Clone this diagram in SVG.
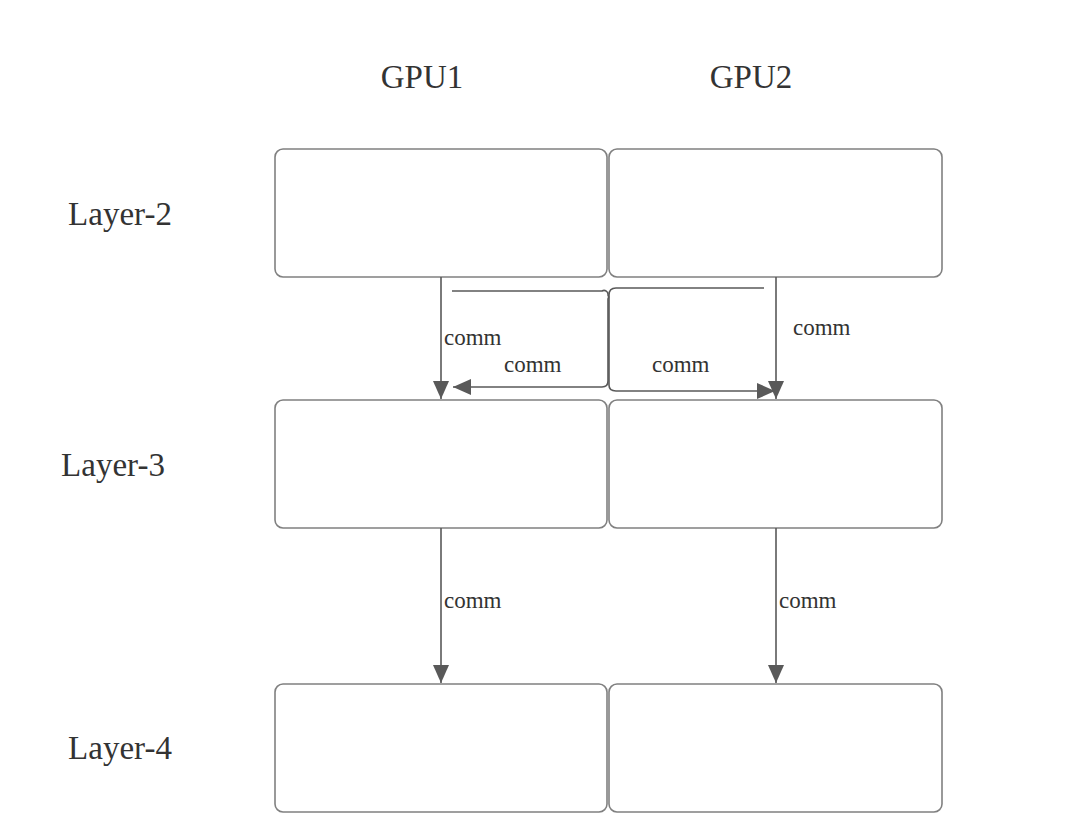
<svg xmlns="http://www.w3.org/2000/svg" width="1071" height="835" viewBox="0 0 1071 835">
<style>
.box{fill:#fff;stroke:#808080;stroke-width:1.6}
.ln{fill:none;stroke:#595959;stroke-width:1.6}
text{font-family:'Liberation Serif','Times New Roman',serif;fill:#333}
.big{font-size:33px}
.sm{font-size:23px}
</style>
<defs>
<marker id="a" viewBox="0 0 18 16" refX="18" refY="8" markerWidth="18" markerHeight="16" markerUnits="userSpaceOnUse" orient="auto">
<path d="M0,0 L18,8 L0,16 Z" fill="#595959"/>
</marker>
</defs>
<rect width="1071" height="835" fill="#fff"/>
<g id="labels">
<text class="big" x="422" y="88" text-anchor="middle">GPU1</text>
<text class="big" x="751" y="88" text-anchor="middle">GPU2</text>
<text class="big" x="120" y="225" text-anchor="middle">Layer-2</text>
<text class="big" x="113" y="476" text-anchor="middle">Layer-3</text>
<text class="big" x="120" y="759" text-anchor="middle">Layer-4</text>
</g>
<g id="l2g1"><rect class="box" x="275" y="149" width="332" height="128" rx="8"/></g>
<g id="l2g2"><rect class="box" x="609" y="149" width="333" height="128" rx="8"/></g>
<g id="l3g1"><rect class="box" x="275" y="400" width="332" height="128" rx="8"/></g>
<g id="l3g2"><rect class="box" x="609" y="400" width="333" height="128" rx="8"/></g>
<g id="l4g1"><rect class="box" x="275" y="684" width="332" height="128" rx="8"/></g>
<g id="l4g2"><rect class="box" x="609" y="684" width="333" height="128" rx="8"/></g>
<g id="connectors">
<path class="ln" d="M441,277 V399" marker-end="url(#a)"/>
<path class="ln" d="M776,277 V399" marker-end="url(#a)"/>
<path class="ln" d="M441,528 V683" marker-end="url(#a)"/>
<path class="ln" d="M776,528 V683" marker-end="url(#a)"/>
<path class="ln" d="M452,291 H602 A4,4 0 0 1 608,295 A4,4 0 0 1 608,299 V381 Q608,387 602,387 H453" marker-end="url(#a)"/>
<path class="ln" d="M764,288 H616 Q609,288 609,295 V385 Q609,391 616,391 H775" marker-end="url(#a)"/>
<text class="sm" x="444" y="345">comm</text>
<text class="sm" x="504" y="372">comm</text>
<text class="sm" x="652" y="372">comm</text>
<text class="sm" x="793" y="335">comm</text>
<text class="sm" x="444" y="608">comm</text>
<text class="sm" x="779" y="608">comm</text>
</g>
</svg>
